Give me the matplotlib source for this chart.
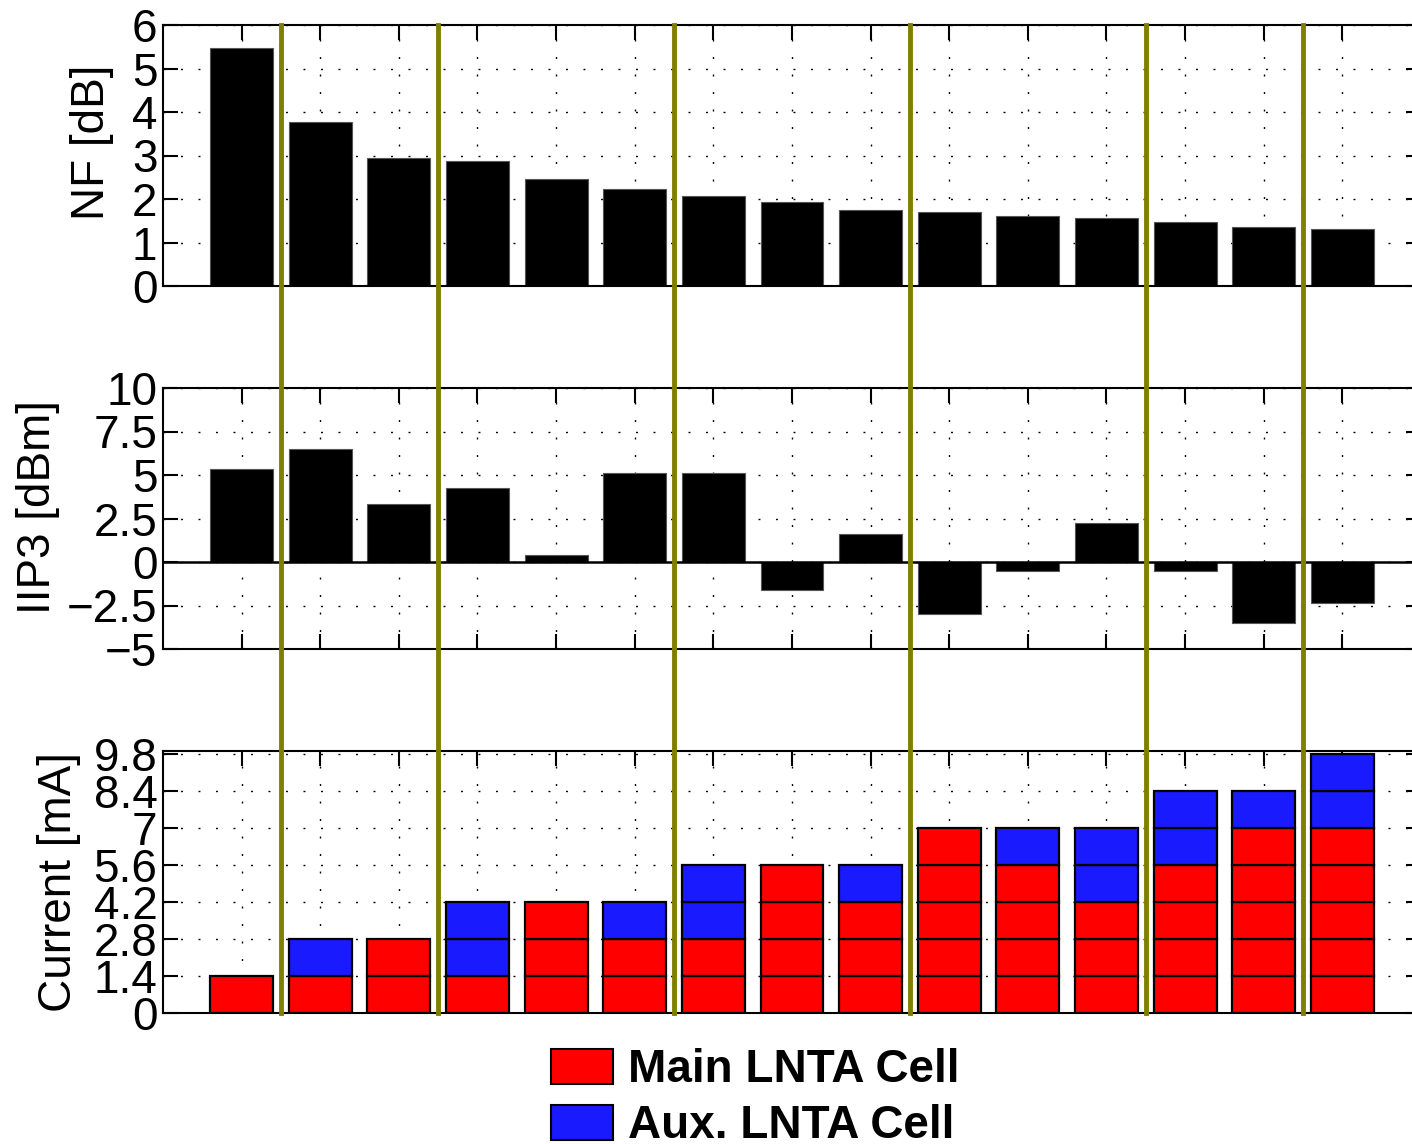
import numpy as np
import matplotlib
matplotlib.use("Agg")
import matplotlib.pyplot as plt
from matplotlib.patches import Patch
from matplotlib.lines import Line2D
import matplotlib.transforms as mtransforms

# ---------------- data ----------------
nf_db = [5.47, 3.76, 2.94, 2.88, 2.47, 2.22, 2.08, 1.92, 1.75, 1.69, 1.61, 1.56, 1.46, 1.36, 1.32]
iip3_dbm = [5.34, 6.51, 3.31, 4.28, 0.38, 5.13, 5.13, -1.61, 1.63, -2.97, -0.53, 2.22, -0.53, -3.5, -2.33]
main_cells = [1, 1, 2, 1, 3, 2, 2, 4, 3, 5, 4, 3, 4, 5, 5]
aux_cells = [0, 1, 0, 2, 0, 1, 2, 0, 1, 0, 1, 2, 2, 1, 2]
cell_current_ma = 1.4
group_sizes = [1, 2, 3, 3, 3, 2, 1]

nf_ticks = [0, 1, 2, 3, 4, 5, 6]
iip3_ticks = [-5, -2.5, 0, 2.5, 5, 7.5, 10]
iip3_ticklabels = ["\u22125", "\u22122.5", "0", "2.5", "5", "7.5", "10"]
cur_ticks = [0, 1.4, 2.8, 4.2, 5.6, 7, 8.4, 9.8]
cur_ticklabels = ["0", "1.4", "2.8", "4.2", "5.6", "7", "8.4", "9.8"]
legend_labels = ["Main LNTA Cell", "Aux. LNTA Cell"]

# ---------------- style ----------------
plt.rcParams['font.family'] = ['Liberation Sans', 'DejaVu Sans']
FS = 33
RED = '#ff0000'
BLUE = '#1a1aff'
OLIVE = '#808000'

fig = plt.figure(figsize=(14.12, 11.44), dpi=100)
W, H = 1412.0, 1144.0
left = 163 / W
width = (1421 - 163) / W
ax_nf = fig.add_axes([left, 1 - 286 / H, width, 261 / H])
ax_ip = fig.add_axes([left, 1 - 649 / H, width, 261 / H])
ax_cu = fig.add_axes([left, 1 - 1013 / H, width, 262 / H])

n = len(nf_db)
x = np.arange(1, n + 1)
bw = 0.8

def style(ax):
    ax.set_xlim(0, n + 1)
    ax.set_xticks(x)
    ax.set_xticklabels([])
    ax.tick_params(direction='in', length=11, width=1.5, top=True, right=True,
                   labelsize=FS, pad=4)
    for s in ax.spines.values():
        s.set_linewidth(1.5)
    ax.grid(True, color='black', linewidth=1.0, linestyle=(0, (1.4, 11.2)))
    ax.set_axisbelow(True)

# NF
ax_nf.bar(x, nf_db, width=bw, color='black', edgecolor='#555555', linewidth=0.8)
style(ax_nf)
ax_nf.set_ylim(0, 6)
ax_nf.set_yticks(nf_ticks)
ax_nf.set_ylabel("NF [dB]", fontsize=FS, va='center')
ax_nf.yaxis.set_label_coords(-0.0564, 0.55)

# IIP3
ax_ip.bar(x, iip3_dbm, width=bw, color='black', edgecolor='#555555', linewidth=0.8)
ax_ip.axhline(0, color='black', linewidth=1.8)
style(ax_ip)
ax_ip.set_ylim(-5, 10)
ax_ip.set_yticks(iip3_ticks)
ax_ip.set_yticklabels(iip3_ticklabels)
ax_ip.set_ylabel("IIP3 [dBm]", fontsize=FS, va='center')
ax_ip.yaxis.set_label_coords(-0.0994, 0.542)

# Current (stacked unit cells)
for i in range(n):
    for k in range(main_cells[i]):
        ax_cu.bar(x[i], cell_current_ma, bottom=k * cell_current_ma, width=bw,
                  color=RED, edgecolor='black', linewidth=1.6)
    for k in range(aux_cells[i]):
        ax_cu.bar(x[i], cell_current_ma, bottom=(main_cells[i] + k) * cell_current_ma,
                  width=bw, color=BLUE, edgecolor='black', linewidth=1.6)
style(ax_cu)
ax_cu.set_ylim(0, 9.92)
ax_cu.set_yticks(cur_ticks)
ax_cu.set_yticklabels(cur_ticklabels)
ax_cu.set_ylabel("Current [mA]", fontsize=FS, va='center')
ax_cu.yaxis.set_label_coords(-0.0827, 0.5)

# Group separators spanning all panels
bounds = np.cumsum(group_sizes)[:-1] + 0.5
trans = mtransforms.blended_transform_factory(ax_nf.transData, fig.transFigure)
y0 = ax_cu.get_position().y0
y1 = ax_nf.get_position().y1
for b in bounds:
    fig.add_artist(Line2D([b, b], [y0, y1], transform=trans, color=OLIVE,
                          linewidth=3.5, zorder=10))

# Legend
handles = [Patch(facecolor=RED, edgecolor='black', linewidth=1.5),
           Patch(facecolor=BLUE, edgecolor='black', linewidth=1.5)]
fig.legend(handles, legend_labels, loc='center', bbox_to_anchor=(0.535, 0.040),
           frameon=False, prop={'size': FS, 'weight': 'bold'},
           handlelength=1.35, handleheight=0.8, handletextpad=0.33,
           labelspacing=0.27, borderpad=0)

fig.savefig("out.png", dpi=100)
